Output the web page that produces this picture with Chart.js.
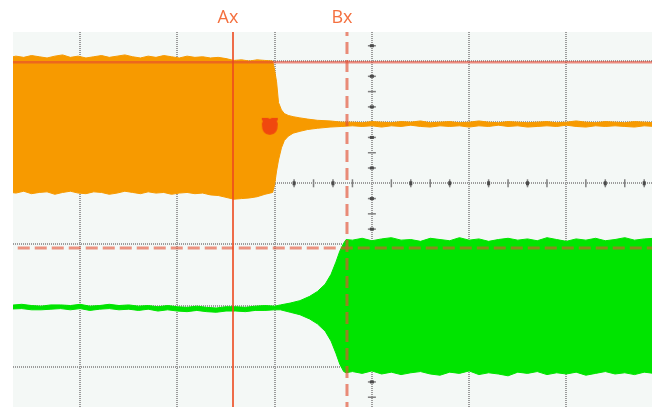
<!DOCTYPE html>
<html>
<head>
<meta charset="utf-8">
<script src="https://cdn.jsdelivr.net/npm/chart.js@4.4.0/dist/chart.umd.min.js"></script>
<style>
  body { margin: 0; background: #fff; }
  #scope { display: block; }
</style>
</head>
<body>
<canvas id="scope" width="658" height="407"></canvas>
<script>
// Fenêtre visible de l'écran, en divisions depuis le centre
const X_MIN = -3.69, X_MAX = 2.88;
const Y_MIN = -3.66, Y_MAX = 2.475;
const xGridDivs = [-3, -2, -1, 0, 1, 2];
const yGridDivs = [-3, -2, -1, 0, 1, 2];

// CH1 (orange) : salve, décroissance, puis repos
const ch1BurstTime = [-3.75, -3.66, -3.58, -3.50, -3.42, -3.34, -3.26, -3.18, -3.10, -3.02, -2.94, -2.86, -2.78, -2.70, -2.62, -2.54, -2.46, -2.38, -2.30, -2.22, -2.14, -2.06, -1.98, -1.90, -1.82, -1.74, -1.66, -1.58, -1.50, -1.42, -1.34, -1.26, -1.18, -1.10, -1.02];
const ch1BurstUpper = [2.05, 2.08, 2.06, 2.09, 2.07, 2.05, 2.08, 2.10, 2.06, 2.08, 2.05, 2.07, 2.09, 2.06, 2.08, 2.10, 2.07, 2.05, 2.08, 2.06, 2.09, 2.07, 2.05, 2.08, 2.06, 2.07, 2.05, 2.06, 2.04, 2.01, 2.02, 2.00, 2.02, 2.01, 2.00];
const ch1BurstLower = [-0.14, -0.16, -0.13, -0.17, -0.15, -0.14, -0.18, -0.15, -0.13, -0.16, -0.17, -0.14, -0.15, -0.18, -0.16, -0.13, -0.15, -0.17, -0.14, -0.16, -0.15, -0.18, -0.16, -0.15, -0.17, -0.16, -0.19, -0.20, -0.23, -0.26, -0.25, -0.24, -0.22, -0.18, -0.15];
const ch1DecayTime = [-1.00, -0.98, -0.96, -0.93, -0.90, -0.86, -0.81, -0.74, -0.66, -0.56, -0.43, -0.31];
const ch1DecayUpper = [1.85, 1.66, 1.32, 1.20, 1.14, 1.11, 1.09, 1.07, 1.05, 1.03, 1.02, 1.00];
const ch1DecayLower = [-0.02, 0.20, 0.38, 0.58, 0.70, 0.77, 0.82, 0.85, 0.88, 0.90, 0.92, 0.93];
const ch1IdleTime = [-0.20, -0.10, 0.00, 0.10, 0.20, 0.30, 0.40, 0.50, 0.60, 0.70, 0.80, 0.90, 1.00, 1.10, 1.20, 1.30, 1.40, 1.50, 1.60, 1.70, 1.80, 1.90, 2.00, 2.10, 2.20, 2.30, 2.40, 2.50, 2.60, 2.70, 2.80, 2.90, 3.00];
const ch1IdleUpper = [1.00, 0.99, 1.01, 1.00, 0.99, 1.01, 1.00, 1.02, 0.99, 1.00, 1.01, 0.99, 1.00, 1.02, 1.00, 0.99, 1.01, 1.00, 0.99, 1.00, 1.01, 0.99, 1.00, 1.02, 1.00, 0.99, 1.01, 1.00, 0.99, 1.01, 1.00, 0.99, 1.00];
const ch1IdleLower = [0.94, 0.93, 0.94, 0.92, 0.94, 0.93, 0.95, 0.93, 0.92, 0.94, 0.93, 0.94, 0.92, 0.94, 0.93, 0.95, 0.93, 0.94, 0.92, 0.93, 0.94, 0.93, 0.95, 0.93, 0.92, 0.94, 0.93, 0.94, 0.93, 0.92, 0.94, 0.93, 0.94];

// CH2 (vert) : repos, montée, puis salve
const ch2IdleTime = [-3.75, -3.60, -3.50, -3.40, -3.30, -3.20, -3.10, -3.00, -2.90, -2.80, -2.70, -2.60, -2.50, -2.40, -2.30, -2.20, -2.10, -2.00, -1.90, -1.80, -1.70, -1.60, -1.50, -1.40, -1.30, -1.20, -1.10, -1.00, -0.94];
const ch2IdleUpper = [-2.00, -1.98, -2.00, -2.01, -1.99, -1.99, -2.00, -1.98, -2.01, -2.00, -1.98, -2.00, -1.99, -2.01, -2.00, -2.02, -2.00, -2.02, -2.03, -2.01, -2.03, -2.04, -2.02, -2.02, -2.03, -2.01, -2.00, -2.01, -1.99];
const ch2IdleLower = [-2.06, -2.05, -2.07, -2.07, -2.06, -2.05, -2.07, -2.05, -2.08, -2.06, -2.05, -2.07, -2.06, -2.08, -2.06, -2.09, -2.07, -2.09, -2.10, -2.08, -2.10, -2.11, -2.09, -2.09, -2.10, -2.08, -2.08, -2.07, -2.07];
const ch2RiseTime = [-0.84, -0.74, -0.64, -0.56, -0.48, -0.42, -0.37, -0.33, -0.29, -0.265];
const ch2RiseUpper = [-1.96, -1.92, -1.85, -1.77, -1.65, -1.49, -1.29, -1.11, -0.98, -0.92];
const ch2RiseLower = [-2.11, -2.15, -2.22, -2.30, -2.42, -2.58, -2.78, -2.96, -3.08, -3.10];
const ch2BurstTime = [-0.20, -0.10, 0.00, 0.10, 0.20, 0.30, 0.40, 0.50, 0.60, 0.70, 0.80, 0.90, 1.00, 1.10, 1.20, 1.30, 1.40, 1.50, 1.60, 1.70, 1.80, 1.90, 2.00, 2.10, 2.20, 2.30, 2.40, 2.50, 2.60, 2.70, 2.80, 2.90, 3.00];
const ch2BurstUpper = [-0.93, -0.90, -0.94, -0.91, -0.89, -0.93, -0.92, -0.95, -0.90, -0.92, -0.94, -0.89, -0.93, -0.91, -0.95, -0.92, -0.90, -0.93, -0.91, -0.94, -0.89, -0.92, -0.95, -0.91, -0.93, -0.90, -0.94, -0.92, -0.89, -0.93, -0.91, -0.90, -0.92];
const ch2BurstLower = [-3.08, -3.11, -3.07, -3.12, -3.09, -3.13, -3.10, -3.08, -3.12, -3.14, -3.09, -3.11, -3.07, -3.13, -3.10, -3.12, -3.15, -3.09, -3.11, -3.08, -3.13, -3.10, -3.12, -3.09, -3.14, -3.11, -3.08, -3.12, -3.10, -3.13, -3.09, -3.11, -3.10];

// Curseurs et repère de déclenchement
const cursorLabels = ["Ax", "Bx"];
const cursorX = [-1.428, -0.256];
const cursorY = [1.98, -1.06];
const triggerMark = [{ x: -1.05, y: 0.94 }];

const ORANGE = "#f79a00";
const GREEN = "#00e400";

function toPoints(time, values) {
  return time.map((t, i) => ({ x: t, y: values[i] }));
}

const ch1Time = [...ch1BurstTime, ...ch1DecayTime, ...ch1IdleTime];
const ch1Upper = [...ch1BurstUpper, ...ch1DecayUpper, ...ch1IdleUpper];
const ch1Lower = [...ch1BurstLower, ...ch1DecayLower, ...ch1IdleLower];
const ch2Time = [...ch2IdleTime, ...ch2RiseTime, ...ch2BurstTime];
const ch2Upper = [...ch2IdleUpper, ...ch2RiseUpper, ...ch2BurstUpper];
const ch2Lower = [...ch2IdleLower, ...ch2RiseLower, ...ch2BurstLower];

// Petit écusson rouge du déclenchement
function makeMarker() {
  const c = document.createElement("canvas");
  c.width = 18;
  c.height = 20;
  const g = c.getContext("2d");
  g.fillStyle = "#f0480e";
  g.beginPath();
  g.moveTo(1, 2);
  g.lineTo(7, 2);
  g.lineTo(9, 3);
  g.lineTo(11, 2);
  g.lineTo(17, 2);
  g.lineTo(17, 4);
  g.lineTo(16, 5);
  g.lineTo(17, 8);
  g.quadraticCurveTo(17, 19, 9, 19);
  g.quadraticCurveTo(1, 19, 1, 8);
  g.lineTo(2, 5);
  g.lineTo(1, 4);
  g.closePath();
  g.fill();
  return c;
}

// Fond de l'écran
const screenBackground = {
  id: "screenBackground",
  beforeDraw(chart) {
    const { ctx, chartArea: a } = chart;
    ctx.save();
    ctx.fillStyle = "#f4f8f6";
    ctx.fillRect(a.left, a.top, a.right - a.left, a.bottom - a.top);
    ctx.restore();
  },
};

// Graduations fines sur les axes centraux
const centerTicks = {
  id: "centerTicks",
  beforeDatasetsDraw(chart) {
    const { ctx, scales, chartArea: a } = chart;
    const x0 = scales.x.getPixelForValue(0);
    const y0 = scales.y.getPixelForValue(0);
    ctx.save();
    ctx.beginPath();
    ctx.rect(a.left, a.top, a.right - a.left, a.bottom - a.top);
    ctx.clip();
    ctx.strokeStyle = "#808080";
    ctx.fillStyle = "#4a4a4a";
    ctx.lineWidth = 1.5;
    for (let i = -20; i <= 15; i++) {
      if (i % 5 === 0) continue;
      const px = scales.x.getPixelForValue(i * 0.2);
      ctx.beginPath();
      ctx.moveTo(px, y0 - 4);
      ctx.lineTo(px, y0 + 4);
      ctx.stroke();
      if (i % 2 === 0) ctx.fillRect(px - 1.5, y0 - 2, 3, 4);
    }
    for (let j = -16; j <= 10; j++) {
      if (j % 4 === 0) continue;
      const py = scales.y.getPixelForValue(j * 0.25);
      ctx.beginPath();
      ctx.moveTo(x0 - 4, py);
      ctx.lineTo(x0 + 4, py);
      ctx.stroke();
      if (j % 2 !== 0) ctx.fillRect(x0 - 2, py - 1.5, 4, 3);
    }
    ctx.restore();
  },
};

// Étiquettes des curseurs
const cursorText = {
  id: "cursorText",
  afterDraw(chart) {
    const { ctx, scales } = chart;
    ctx.save();
    ctx.font = '18px "Open Sans"';
    ctx.fillStyle = "#f4703f";
    ctx.textAlign = "center";
    ctx.textBaseline = "alphabetic";
    cursorLabels.forEach((label, i) => {
      ctx.fillText(label, scales.x.getPixelForValue(cursorX[i]) - 5, 23);
    });
    ctx.restore();
  },
};

const common = { pointRadius: 0, borderWidth: 1, tension: 0 };

new Chart(document.getElementById("scope"), {
  type: "line",
  data: {
    datasets: [
      {
        label: "Ax",
        data: [{ x: cursorX[0], y: Y_MIN - 1 }, { x: cursorX[0], y: Y_MAX + 1 }],
        borderColor: "rgba(236,72,30,0.8)",
        borderWidth: 2,
        pointRadius: 0,
        order: 0,
      },
      {
        label: "Bx",
        data: [{ x: cursorX[1], y: Y_MIN - 1 }, { x: cursorX[1], y: Y_MAX + 1 }],
        borderColor: "rgba(228,80,50,0.65)",
        borderWidth: 3,
        borderDash: [12, 6],
        pointRadius: 0,
        order: 0,
      },
      {
        label: "Ay",
        data: [{ x: X_MIN - 1, y: cursorY[0] }, { x: X_MAX + 1, y: cursorY[0] }],
        borderColor: "rgba(228,70,50,0.6)",
        borderWidth: 2.5,
        pointRadius: 0,
        order: 0,
      },
      {
        label: "By",
        data: [{ x: X_MIN - 1, y: cursorY[1] }, { x: X_MAX + 1, y: cursorY[1] }],
        borderColor: "rgba(228,80,50,0.6)",
        borderWidth: 3,
        borderDash: [12, 5],
        pointRadius: 0,
        order: 0,
      },
      {
        label: "Trig",
        data: triggerMark,
        showLine: false,
        pointStyle: makeMarker(),
        pointRadius: 10,
        order: 1,
      },
      {
        label: "CH1 haut",
        data: toPoints(ch1Time, ch1Upper),
        borderColor: ORANGE,
        backgroundColor: ORANGE,
        fill: "+1",
        order: 2,
        ...common,
      },
      {
        label: "CH1 bas",
        data: toPoints(ch1Time, ch1Lower),
        borderColor: ORANGE,
        fill: false,
        order: 2,
        ...common,
      },
      {
        label: "CH2 haut",
        data: toPoints(ch2Time, ch2Upper),
        borderColor: GREEN,
        backgroundColor: GREEN,
        fill: "+1",
        order: 3,
        ...common,
      },
      {
        label: "CH2 bas",
        data: toPoints(ch2Time, ch2Lower),
        borderColor: GREEN,
        fill: false,
        order: 3,
        ...common,
      },
    ],
  },
  options: {
    responsive: false,
    animation: false,
    devicePixelRatio: 1,
    events: [],
    layout: { autoPadding: false, padding: { left: 13, right: 6, top: 32, bottom: 0 } },
    plugins: {
      legend: { display: false },
      tooltip: { enabled: false },
    },
    scales: {
      x: {
        type: "linear",
        min: X_MIN,
        max: X_MAX,
        afterBuildTicks: (scale) => {
          scale.ticks = xGridDivs.map((v) => ({ value: v }));
        },
        ticks: { display: false },
        grid: { color: "#9c9c9c", lineWidth: 2, drawTicks: false },
        border: { display: false, dash: [1, 1] },
      },
      y: {
        type: "linear",
        min: Y_MIN,
        max: Y_MAX,
        afterBuildTicks: (scale) => {
          scale.ticks = yGridDivs.map((v) => ({ value: v }));
        },
        ticks: { display: false },
        grid: { color: "#9c9c9c", lineWidth: 2, drawTicks: false },
        border: { display: false, dash: [1, 1] },
      },
    },
  },
  plugins: [screenBackground, centerTicks, cursorText],
});
</script>
</body>
</html>
